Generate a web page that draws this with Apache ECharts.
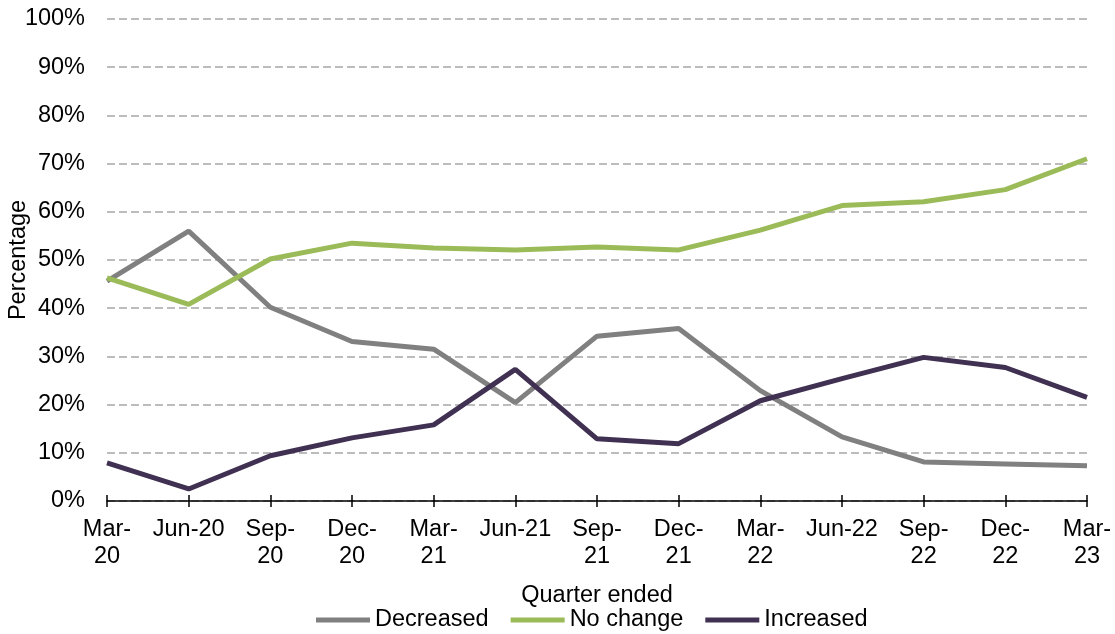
<!DOCTYPE html>
<html>
<head>
<meta charset="utf-8">
<script src="https://cdn.jsdelivr.net/npm/echarts@6/dist/echarts.min.js"></script>
<style>
html,body{margin:0;padding:0;background:#fff;}
#chart{width:1115px;height:634px;}
</style>
</head>
<body>
<div id="chart"></div>
<script>
const categories = ['Mar-\n20','Jun-20','Sep-\n20','Dec-\n20','Mar-\n21','Jun-21','Sep-\n21','Dec-\n21','Mar-\n22','Jun-22','Sep-\n22','Dec-\n22','Mar-\n23'];
const decreased = [45.6, 56.0, 40.2, 33.1, 31.5, 20.4, 34.2, 35.8, 22.9, 13.3, 8.1, 7.7, 7.3];
const noChange  = [46.3, 40.8, 50.2, 53.5, 52.5, 52.1, 52.7, 52.1, 56.2, 61.3, 62.1, 64.6, 71.0];
const increased = [7.9, 2.5, 9.4, 13.1, 15.8, 27.3, 12.9, 11.9, 20.8, 25.4, 29.8, 27.7, 21.5];

const font = 'Liberation Sans, Arial, sans-serif';
const FS = 23.5;
const chart = echarts.init(document.getElementById('chart'));
const mk = (name, data, color) => ({
  name, type: 'line', data, symbol: 'none',
  lineStyle: {color, width: 5}, itemStyle: {color}
});
chart.setOption({
  animation: false,
  textStyle: {fontFamily: font},
  grid: {left: 107, right: 28, top: 19, bottom: 133, containLabel: false, outerBoundsMode: 'none'},
  legend: {
    top: 603, left: 311, itemGap: 22, itemWidth: 54, itemHeight: 5, icon: 'rect',
    textStyle: {fontSize: FS, color: '#000', fontFamily: font},
    data: ['Decreased','No change','Increased']
  },
  xAxis: [{
    type: 'category', data: categories, boundaryGap: false, position: 'bottom',
    name: 'Quarter ended', nameLocation: 'middle', nameGap: 83,
    nameTextStyle: {fontSize: FS, color: '#000', fontFamily: font},
    axisLine: {lineStyle: {color: '#000', width: 1.5}},
    axisTick: {show: true, length: 6, lineStyle: {color: '#000', width: 1.5}},
    axisLabel: {interval: 0, fontSize: FS, color: '#000', margin: 15, lineHeight: 27, fontFamily: font},
    splitLine: {show: false}
  }, {
    type: 'category', data: categories, boundaryGap: false, position: 'bottom',
    axisLine: {show: false},
    axisTick: {show: true, inside: true, length: 6, lineStyle: {color: '#000', width: 1.5}},
    axisLabel: {show: false},
    splitLine: {show: false}
  }],
  yAxis: {
    type: 'value', min: 0, max: 100, interval: 10,
    name: 'Percentage', nameLocation: 'middle', nameGap: 76, nameRotate: 90, nameMoveOverlap: false,
    nameTextStyle: {fontSize: FS, color: '#000', fontFamily: font},
    axisLine: {show: false}, axisTick: {show: false},
    axisLabel: {formatter: '{value}%', fontSize: FS, color: '#000', margin: 22, fontFamily: font},
    splitLine: {lineStyle: {color: '#A6A6A6', type: [8,4], width: 1.5}}
  },
  series: [
    mk('Decreased', decreased, '#808080'),
    mk('No change', noChange, '#9BBB59'),
    mk('Increased', increased, '#403152')
  ]
});
</script>
</body>
</html>
